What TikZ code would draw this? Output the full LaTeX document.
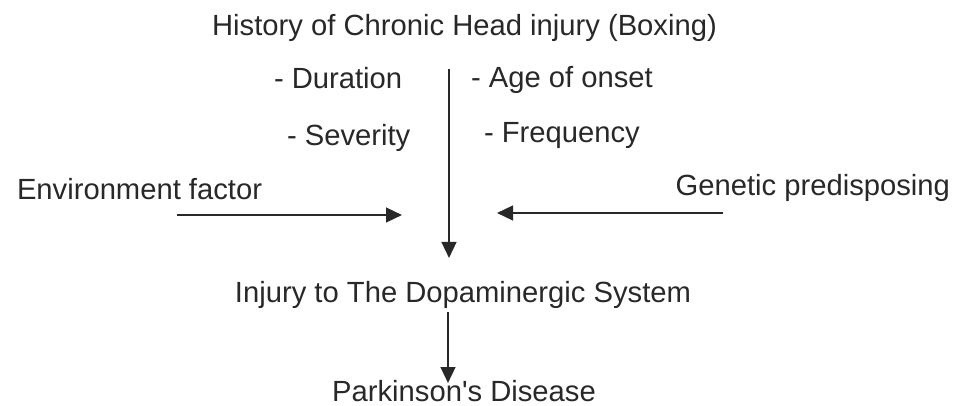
\documentclass[tikz,border=0pt]{standalone}
\usepackage{fontspec}
\setmainfont{Liberation Sans}
\usetikzlibrary{arrows.meta}
\definecolor{ink}{RGB}{40,40,40}
\tikzset{every picture/.style={line width=1.8pt}}
\tikzset{
	txt/.style={inner sep=0pt, outer sep=0pt, text=ink, font=\fontsize{21.9}{26}\selectfont},
	flow/.style={draw=ink, -{Triangle[length=12pt,width=11pt]}}}

\begin{document}
\begin{tikzpicture}[x=0.75pt,y=0.75pt,yscale=-1,xscale=1]
	\useasboundingbox (0,0) rectangle (954,406);

	% Text Node
	\node[txt, anchor=base] (hist) at (464.5,36) {History of Chronic Head injury (Boxing)};
	% Text Node
	\node[txt, anchor=base west] (dur) at (274,89) {- Duration};
	% Text Node
	\node[txt, anchor=base west] (age) at (471,88) {- Age of onset};
	% Text Node
	\node[txt, anchor=base west] (sev) at (287,146) {- Severity};
	% Text Node
	\node[txt, anchor=base west] (freq) at (484,143) {- Frequency};
	% Text Node
	\node[txt, anchor=base west] (env) at (17,200) {Environment factor};
	% Text Node
	\node[txt, anchor=base east] (gen) at (950,196) {Genetic predisposing};
	% Text Node
	\node[txt, anchor=base] (injury) at (463,302) {Injury to The Dopaminergic System};
	% Text Node
	\node[txt, anchor=base] (park) at (464,401) {Parkinson\textquotesingle s Disease};

	% arrow ends
	\coordinate (hist end) at (449,69);
	\coordinate (injury top) at (449,258);
	\coordinate (env start) at (177,215);
	\coordinate (env tip) at (402,215);
	\coordinate (gen start) at (723,213);
	\coordinate (gen tip) at (497,213);
	\coordinate (injury end) at (448,312);
	\coordinate (park top) at (448,383);

	%Straight Lines
	\draw[flow] (hist end) -- (injury top);
	\draw[flow] (env start) -- (env tip);
	\draw[flow] (gen start) -- (gen tip);
	\draw[flow] (injury end) -- (park top);

\end{tikzpicture}
\end{document}
